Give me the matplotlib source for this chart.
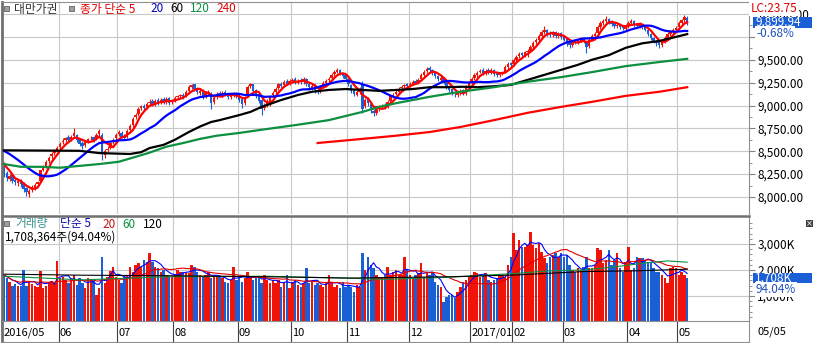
import numpy as np
import pandas as pd
import matplotlib
matplotlib.use('Agg')
import matplotlib.pyplot as plt
from matplotlib.patches import Rectangle
from matplotlib.ticker import FixedLocator, FuncFormatter

plt.rcParams['font.family'] = ['Noto Sans CJK KR', 'DejaVu Sans']

# ---------------- data ----------------
month_labels = ['2016/05', '06', '07', '08', '09', '10', '11', '12', '2017/01', '02', '03', '04', '05']
month_days = [20, 21, 20, 23, 19, 20, 22, 22, 15, 18, 23, 18, 4]

pre_close = [8560, 8580, 8600, 8590, 8620, 8610, 8580, 8560, 8540, 8530,
             8550, 8520, 8500, 8480, 8450, 8420, 8400, 8380, 8370]

opens = [
    8330, 8260, 8200, 8240, 8190, 8150, 8190, 8150, 8100, 8030, 8080, 8100, 8140, 8180, 8300, 8340, 8390, 8450, 8480, 8510,
    8550, 8600, 8620, 8660, 8630, 8670, 8680, 8640, 8590, 8570, 8610, 8640, 8660, 8630, 8690, 8680, 8460, 8510, 8540, 8600,
    8640, 8690, 8700, 8670, 8660, 8730, 8790, 8870, 8910, 8970, 9000, 8980, 9030, 9050, 9020, 9060, 9040, 9070, 9040, 9080, 9040,
    9060, 9090, 9100, 9120, 9100, 9160, 9200, 9230, 9190, 9140, 9170, 9100, 9130, 9140, 9040, 9090, 9140, 9110, 9150, 9130, 9090, 9110, 9140,
    9110, 9070, 9030, 9100, 9210, 9230, 9170, 9110, 9060, 8970, 9000, 9010, 9110, 9150, 9190, 9240, 9220, 9270, 9240,
    9270, 9290, 9250, 9280, 9260, 9290, 9240, 9190, 9220, 9170, 9160, 9210, 9250, 9280, 9300, 9340, 9370, 9390, 9350, 9330,
    9290, 9220, 9170, 9120, 9150, 9240, 8990, 9070, 9020, 8940, 8920, 8960, 8980, 9010, 8990, 9050, 9100, 9130, 9150, 9190, 9210, 9230,
    9220, 9240, 9270, 9260, 9290, 9330, 9380, 9410, 9390, 9350, 9320, 9280, 9300, 9260, 9200, 9180, 9120, 9110, 9140, 9170, 9140, 9200,
    9260, 9300, 9330, 9370, 9390, 9350, 9390, 9360, 9390, 9350, 9330, 9350, 9370, 9420, 9460,
    9450, 9500, 9540, 9570, 9550, 9580, 9600, 9640, 9690, 9720, 9760, 9800, 9830, 9790, 9770, 9800, 9760, 9790,
    9760, 9730, 9690, 9660, 9710, 9690, 9710, 9740, 9700, 9650, 9720, 9760, 9790, 9860, 9900, 9920, 9950, 9920, 9900, 9870, 9890, 9870, 9840,
    9870, 9900, 9920, 9890, 9870, 9890, 9860, 9830, 9780, 9740, 9700, 9690, 9660, 9700, 9740, 9780, 9800, 9830,
    9860, 9900, 9930, 9960]

closes = [
    8250, 8210, 8230, 8170, 8160, 8180, 8140, 8090, 8050, 8070, 8110, 8130, 8160, 8290, 8330, 8380, 8430, 8470, 8500, 8540,
    8580, 8610, 8640, 8620, 8660, 8700, 8620, 8580, 8560, 8600, 8630, 8650, 8620, 8680, 8720, 8480, 8500, 8530, 8590, 8620,
    8680, 8710, 8660, 8640, 8720, 8780, 8850, 8900, 8960, 8990, 8970, 9020, 9040, 9010, 9050, 9030, 9060, 9040, 9070, 9030, 9050,
    9080, 9100, 9110, 9090, 9150, 9200, 9220, 9180, 9150, 9160, 9090, 9140, 9150, 9030, 9080, 9130, 9110, 9140, 9120, 9090, 9110, 9130, 9100,
    9060, 9020, 9080, 9200, 9230, 9160, 9100, 9050, 8960, 9000, 9050, 9100, 9140, 9180, 9230, 9210, 9260, 9240, 9270,
    9280, 9250, 9270, 9260, 9290, 9230, 9200, 9210, 9170, 9150, 9200, 9250, 9270, 9290, 9330, 9370, 9390, 9350, 9320, 9290,
    9230, 9160, 9130, 9150, 9180, 8960, 9060, 9030, 8950, 8920, 8960, 8990, 9000, 8980, 9040, 9100, 9120, 9150, 9180, 9200, 9220, 9210,
    9240, 9260, 9250, 9280, 9330, 9370, 9400, 9390, 9350, 9320, 9290, 9300, 9260, 9200, 9170, 9130, 9110, 9140, 9160, 9130, 9200, 9250,
    9290, 9330, 9360, 9380, 9350, 9380, 9360, 9390, 9340, 9330, 9350, 9360, 9420, 9450, 9440,
    9500, 9530, 9560, 9550, 9580, 9600, 9640, 9680, 9720, 9760, 9800, 9830, 9780, 9770, 9790, 9760, 9780, 9750,
    9720, 9680, 9660, 9700, 9690, 9710, 9730, 9700, 9640, 9720, 9760, 9780, 9860, 9900, 9920, 9950, 9910, 9890, 9870, 9880, 9860, 9850, 9870,
    9900, 9920, 9880, 9870, 9890, 9860, 9830, 9780, 9740, 9700, 9680, 9660, 9700, 9740, 9780, 9800, 9830, 9850,
    9900, 9930, 9967.7, 9899.94]

highs = [
    8350, 8280, 8250, 8250, 8210, 8200, 8200, 8160, 8110, 8090, 8130, 8150, 8180, 8300, 8350, 8400, 8450, 8490, 8520, 8560,
    8600, 8640, 8660, 8680, 8680, 8750, 8690, 8650, 8610, 8620, 8650, 8670, 8670, 8700, 8740, 8700, 8520, 8560, 8600, 8640,
    8700, 8730, 8720, 8690, 8740, 8800, 8870, 8920, 8980, 9010, 9020, 9040, 9070, 9070, 9070, 9080, 9080, 9090, 9090, 9090, 9070,
    9100, 9120, 9130, 9140, 9170, 9220, 9240, 9240, 9200, 9180, 9180, 9160, 9170, 9150, 9100, 9150, 9160, 9160, 9170, 9140, 9130, 9150, 9150,
    9120, 9080, 9100, 9220, 9250, 9240, 9180, 9120, 9070, 9030, 9070, 9120, 9160, 9200, 9250, 9260, 9280, 9290, 9290,
    9300, 9310, 9290, 9300, 9310, 9300, 9250, 9230, 9230, 9190, 9220, 9270, 9290, 9310, 9350, 9390, 9410, 9400, 9360, 9340,
    9300, 9230, 9180, 9170, 9200, 9270, 9080, 9090, 9030, 8960, 8980, 9010, 9020, 9030, 9060, 9120, 9140, 9170, 9200, 9220, 9240, 9250,
    9260, 9280, 9290, 9300, 9350, 9390, 9420, 9430, 9400, 9360, 9330, 9320, 9310, 9270, 9210, 9190, 9140, 9160, 9180, 9180, 9220, 9270,
    9310, 9350, 9380, 9400, 9410, 9400, 9410, 9410, 9400, 9370, 9370, 9380, 9440, 9470, 9480,
    9520, 9550, 9590, 9590, 9600, 9620, 9660, 9700, 9740, 9780, 9820, 9870, 9840, 9810, 9810, 9810, 9800, 9800,
    9770, 9740, 9700, 9720, 9730, 9730, 9750, 9750, 9710, 9740, 9780, 9800, 9880, 9920, 9940, 9975, 9960, 9930, 9910, 9900, 9900, 9880, 9890,
    9920, 9940, 9930, 9900, 9910, 9900, 9870, 9840, 9790, 9750, 9720, 9700, 9720, 9760, 9800, 9820, 9850, 9870,
    9920, 9950, 9985, 9975]

lows = [
    8220, 8180, 8180, 8150, 8130, 8120, 8110, 8060, 8010, 8000, 8060, 8080, 8120, 8170, 8280, 8320, 8370, 8420, 8460, 8490,
    8530, 8580, 8600, 8600, 8610, 8650, 8600, 8560, 8530, 8550, 8590, 8620, 8600, 8620, 8670, 8400, 8430, 8490, 8520, 8580,
    8620, 8670, 8640, 8620, 8650, 8710, 8770, 8850, 8890, 8950, 8940, 8960, 9010, 8990, 9000, 9010, 9020, 9020, 9020, 9010, 9020,
    9040, 9070, 9080, 9070, 9090, 9140, 9180, 9160, 9130, 9120, 9070, 9080, 9110, 8960, 9020, 9070, 9090, 9090, 9100, 9070, 9070, 9090, 9080,
    9040, 8970, 9010, 9090, 9190, 9140, 9080, 9030, 8900, 8950, 8980, 9000, 9090, 9130, 9170, 9190, 9200, 9220, 9220,
    9250, 9230, 9230, 9240, 9240, 9210, 9170, 9170, 9140, 9130, 9140, 9190, 9230, 9260, 9280, 9320, 9350, 9330, 9300, 9270,
    9210, 9140, 9100, 9100, 9130, 8920, 8970, 9000, 8920, 8880, 8900, 8940, 8960, 8960, 8970, 9030, 9080, 9110, 9130, 9170, 9190, 9190,
    9200, 9220, 9230, 9240, 9270, 9310, 9360, 9370, 9330, 9300, 9270, 9260, 9240, 9180, 9150, 9110, 9090, 9090, 9120, 9110, 9120, 9180,
    9240, 9280, 9310, 9350, 9330, 9330, 9340, 9340, 9320, 9310, 9310, 9330, 9350, 9400, 9420,
    9430, 9480, 9520, 9530, 9530, 9530, 9580, 9620, 9670, 9700, 9740, 9780, 9760, 9750, 9750, 9740, 9740, 9730,
    9700, 9650, 9630, 9640, 9670, 9670, 9690, 9680, 9570, 9630, 9700, 9740, 9770, 9840, 9880, 9900, 9890, 9870, 9850, 9850, 9840, 9830, 9820,
    9850, 9880, 9860, 9850, 9850, 9840, 9810, 9760, 9720, 9680, 9650, 9630, 9640, 9680, 9720, 9760, 9780, 9810,
    9840, 9880, 9910, 9880]

volumes_k = [
    1800, 1700, 1550, 1400, 1450, 1400, 1380, 2000, 1380, 1550, 1450, 1400, 1350, 1950, 1300, 1380, 1550, 1560, 1500, 2350,
    1680, 1740, 1620, 1500, 1680, 1810, 1420, 1680, 1500, 1300, 1680, 1620, 1620, 1050, 1300, 2500, 1500, 1740, 1950, 2130,
    1740, 1620, 1500, 1740, 1800, 2130, 1940, 2200, 2260, 2130, 2380, 2320, 2640, 2320, 2130, 2060, 1940, 2000, 1810, 1740, 1740,
    1810, 2000, 1940, 1940, 1870, 1870, 2190, 2130, 1940, 1810, 1740, 1810, 1940, 1680, 1810, 1740, 1740, 1680, 1550, 1490, 1620, 2130, 1620,
    1700, 1550, 1700, 1940, 1740, 1620, 1680, 1740, 1490, 1810, 1600, 1490, 1620, 1490, 1620, 1360, 1490, 1810, 1300,
    1550, 1620, 1420, 1360, 1490, 2060, 1490, 1550, 1420, 1490, 1420, 1360, 1490, 1810, 1490, 1360, 1420, 1300, 1550, 1360,
    1420, 1360, 1170, 1420, 1360, 2640, 2000, 2510, 2190, 2060, 1810, 1740, 1740, 1810, 2130, 1810, 1940, 2000, 1810, 1810, 2510, 2000,
    1810, 1680, 1810, 1870, 2260, 1740, 1870, 1810, 1940, 1550, 1420, 1360, 780, 970, 1040, 1040, 910, 1170, 1360, 1550, 1620, 1740,
    1810, 1940, 1870, 1740, 1810, 1870, 1620, 1550, 1620, 1680, 1810, 1810, 1740, 2190, 2510,
    3420, 2770, 3140, 2900, 2900, 2960, 3460, 2960, 2830, 3030, 2700, 2450, 2260, 2510, 2570, 2640, 2510, 2640,
    2510, 2570, 2190, 2000, 1940, 2060, 2000, 2130, 2510, 2060, 2060, 2200, 2830, 2770, 2260, 2380, 2770, 2190, 2380, 2640, 2060, 1940, 2320,
    2900, 2000, 2060, 2510, 2450, 2450, 2380, 2320, 2260, 2060, 1940, 1940, 1810, 1680, 1490, 2060, 2130, 2060,
    1810, 1940, 1816, 1708]

# longer moving averages (history before the window)
ma60_idx = [0, 27, 34, 45, 49, 52, 57, 61, 66, 70, 74, 77, 84, 88, 92, 99, 105, 110, 116, 122, 128, 134, 140, 146,
            152, 158, 164, 169, 175, 181, 187, 193, 199, 205, 210, 216, 222, 228, 234, 240, 244]
ma60_val = [8510, 8505, 8480, 8470, 8490, 8535, 8570, 8625, 8710, 8770, 8820, 8840, 8895, 8930, 8985, 9060, 9115, 9150,
            9170, 9180, 9170, 9160, 9170, 9180, 9200, 9200, 9205, 9200, 9210, 9225, 9280, 9335, 9390, 9445, 9500, 9550,
            9630, 9680, 9705, 9750, 9780]
ma120_idx = [0, 6, 13, 20, 27, 34, 41, 46, 52, 58, 64, 70, 76, 84, 92, 105, 116, 128, 134, 140, 146, 152, 158, 163,
             175, 187, 199, 210, 222, 234, 244]
ma120_val = [8360, 8330, 8330, 8320, 8340, 8360, 8385, 8430, 8485, 8550, 8590, 8635, 8670, 8700, 8735, 8790, 8840, 8930,
             8985, 9025, 9060, 9095, 9125, 9150, 9200, 9260, 9310, 9365, 9430, 9475, 9510]
ma240_idx = [112, 128, 140, 152, 163, 175, 187, 199, 210, 222, 234, 244]
ma240_val = [8590, 8635, 8670, 8710, 8765, 8840, 8920, 8985, 9040, 9105, 9150, 9200]

vma60_idx = [0, 28, 58, 94, 124, 136, 159, 183, 195, 207, 219, 228, 237, 244]
vma60_val = [1760, 1620, 1740, 1760, 1680, 1640, 1720, 1870, 1970, 2000, 2130, 2260, 2350, 2300]
vma120_idx = [0, 28, 58, 94, 124, 159, 183, 207, 226, 244]
vma120_val = [1840, 1800, 1780, 1740, 1690, 1740, 1810, 1940, 1970, 2030]

price_ticks = [8000, 8250, 8500, 8750, 9000, 9250, 9500, 9750, 10000]
vol_ticks = [1000, 2000, 3000]

# ---------------- figure ----------------
W, H = 814, 343
fig = plt.figure(figsize=(W / 100, H / 100), dpi=100)
fig.patch.set_facecolor('white')


def box(x0, y0, x1, y1):
    return [x0 / W, 1 - y1 / H, (x1 - x0) / W, (y1 - y0) / H]


def ftext(px, py, s, **kw):
    kw.setdefault('va', 'center')
    kw.setdefault('ha', 'left')
    return fig.text(px / W, 1 - py / H, s, **kw)


def frect(x0, y0, x1, y1, **kw):
    fig.patches.append(Rectangle((x0 / W, 1 - y1 / H), (x1 - x0) / W, (y1 - y0) / H,
                                 transform=fig.transFigure, **kw))


RED = '#f01408'
BLUE = '#1a5fd4'
GRID = '#c8c8c8'
FS = 8.5

o = np.array(opens, float)
c = np.array(closes, float)
h = np.array(highs, float)
l = np.array(lows, float)
v = np.array(volumes_k, float)
n = len(c)
x = np.arange(n)
col = np.where(c >= o, RED, BLUE)

starts = np.concatenate([[0], np.cumsum(month_days)[:-1]])
bounds = starts - 0.5

xlim = ((2 - 4) / 2.8, (749 - 4) / 2.8)

ax = fig.add_axes(box(2, 2, 749, 214))
axv = fig.add_axes(box(2, 216, 749, 321))
axx = fig.add_axes(box(2, 321, 749, 342))

# ---- price panel ----
ax.set_xlim(*xlim)
ax.set_ylim(8000 - 17 / 0.0915, 10000 + 12 / 0.0915)
ax.set_xticks(bounds[1:])
ax.tick_params(axis='x', length=0, labelbottom=False)
ax.yaxis.tick_right()
ax.yaxis.set_major_locator(FixedLocator(price_ticks))
ax.yaxis.set_minor_locator(FixedLocator([t + 125 for t in price_ticks[:-1]]))
ax.yaxis.set_major_formatter(FuncFormatter(lambda val, pos: '' if abs(val - 9750) < 1 else f'{val:,.2f}'))
ax.tick_params(axis='y', which='major', direction='out', length=4, color='#808080', labelsize=FS, pad=2)
ax.tick_params(axis='y', which='minor', direction='out', length=2, color='#808080')
ax.grid(True, color=GRID, lw=0.8)
ax.set_axisbelow(True)
for s in ['top', 'right']:
    ax.spines[s].set_color('#909090')
ax.spines['bottom'].set_visible(False)
ax.spines['left'].set_color('#707070')
ax.spines['left'].set_linewidth(2)

ax.vlines(x, l, h, colors=col, lw=0.8, zorder=2)
body_lo = np.minimum(o, c)
body_h = np.maximum(np.abs(c - o), 10)
ax.bar(x, body_h, bottom=body_lo, width=0.8, color=col, linewidth=0, zorder=2)

full = pd.Series(pre_close + list(c))
k = len(pre_close)
ma5 = full.rolling(5).mean().values[k:]
ma20 = full.rolling(20).mean().values[k:]
ax.plot(x, ma5, color='#ff0000', lw=1.6, zorder=3)
ax.plot(x, ma20, color='#0000ff', lw=1.6, zorder=3)
ax.plot(ma60_idx, ma60_val, color='black', lw=1.6, zorder=3)
ax.plot(ma120_idx, ma120_val, color='#0c9040', lw=1.6, zorder=3)
ax.plot(ma240_idx, ma240_val, color='#ff0000', lw=1.6, zorder=3)

# ---- volume panel ----
axv.set_xlim(*xlim)
axv.set_ylim((322 - 321) / 26 * 1000, (322 - 216) / 26 * 1000)
axv.set_xticks(bounds[1:])
axv.tick_params(axis='x', length=0, labelbottom=False)
axv.yaxis.tick_right()
axv.yaxis.set_major_locator(FixedLocator(vol_ticks))
axv.yaxis.set_minor_locator(FixedLocator([t for t in range(200, 4000, 200) if t % 1000]))
axv.yaxis.set_major_formatter(FuncFormatter(lambda val, pos: f'{val:,.0f}K'))
axv.tick_params(axis='y', which='major', direction='out', length=4, color='#808080', labelsize=FS, pad=2)
axv.tick_params(axis='y', which='minor', direction='out', length=2, color='#808080')
axv.grid(True, color=GRID, lw=0.8)
axv.set_axisbelow(True)
axv.spines['top'].set_color('#707070')
axv.spines['top'].set_linewidth(1.8)
axv.spines['right'].set_color('#909090')
axv.spines['bottom'].set_visible(False)
axv.spines['left'].set_color('#707070')
axv.spines['left'].set_linewidth(2)

axv.bar(x, v, width=0.85, color=col, linewidth=0, zorder=2)
vs = pd.Series(v)
axv.plot(x, vs.rolling(5, min_periods=1).mean(), color='#0000ff', lw=0.8, zorder=3)
axv.plot(x, vs.rolling(20, min_periods=1).mean(), color='#e00000', lw=0.8, zorder=3)
axv.plot(vma60_idx, vma60_val, color='#0c9040', lw=0.8, zorder=3)
axv.plot(vma120_idx, vma120_val, color='black', lw=0.8, zorder=3)

# ---- date row ----
axx.set_xlim(*xlim)
axx.set_ylim(0, 1)
axx.set_xticks([])
axx.set_yticks([])
for s in ['top', 'bottom', 'right']:
    axx.spines[s].set_color('#909090')
axx.spines['left'].set_color('#707070')
axx.spines['left'].set_linewidth(2)
axx.vlines(bounds[1:], 0, 1, color='#404040', lw=0.8)
for b, lab in zip(bounds, month_labels):
    axx.text(max(b, xlim[0]) + 0.4, 0.45, lab, ha='left', va='center', fontsize=8, color='black')
ftext(757, 332, '05/05', fontsize=8, color='black')

# ---- legends ----
frect(4, 6, 9, 11, facecolor='#a0a0a0', edgecolor='#606060', lw=0.6)
ftext(14, 9, '대만가권', fontsize=8.5, color='#333333')
frect(69, 6, 74, 11, facecolor='#a0a0a0', edgecolor='#606060', lw=0.6)
ftext(80, 9, '종가 단순 5', fontsize=8.5, color='#e00000')
ftext(150, 9, '20', fontsize=8.5, color='#0000c0')
ftext(170, 9, '60', fontsize=8.5, color='black')
ftext(190, 9, '120', fontsize=8.5, color='#0c9040')
ftext(216, 9, '240', fontsize=8.5, color='#e00000')

frect(4, 221, 9, 226, facecolor='#a0a0a0', edgecolor='#606060', lw=0.6)
ftext(15, 224, '거래량', fontsize=8.5, color='#3a9090')
ftext(60, 224, '단순 5', fontsize=8.5, color='#1010b0')
ftext(102, 224, '20', fontsize=8.5, color='#c81010')
ftext(122, 224, '60', fontsize=8.5, color='#0c9040')
ftext(143, 224, '120', fontsize=8.5, color='black')
ftext(5, 237, '1,708,364주(94.04%)', fontsize=8.5, color='black')

# ---- right-side markers ----
ftext(751, 8, 'LC:23.75', fontsize=FS, color='#e00000',
      bbox=dict(facecolor='white', edgecolor='none', pad=1.2))
frect(753, 17, 812, 28, facecolor='#1a5fd6', edgecolor='none')
ftext(755, 22.5, '9,899.94', fontsize=FS, color='white')
ftext(756, 33.5, '-0.68%', fontsize=FS, color='#2050c0',
      bbox=dict(facecolor='white', edgecolor='none', pad=0.5))

frect(753, 273, 812, 283, facecolor='#1a5fd6', edgecolor='none')
ftext(755, 278, '1,708K', fontsize=FS, color='white')
ftext(756, 289.5, '94.04%', fontsize=FS, color='#2050c0',
      bbox=dict(facecolor='white', edgecolor='none', pad=0.5))

frect(806, 220, 813, 227, facecolor='#404040', edgecolor='none')
ftext(809.5, 223.5, '×', fontsize=6, color='white', ha='center', family='DejaVu Sans')

fig.savefig('out.png', dpi=100, facecolor='white')
